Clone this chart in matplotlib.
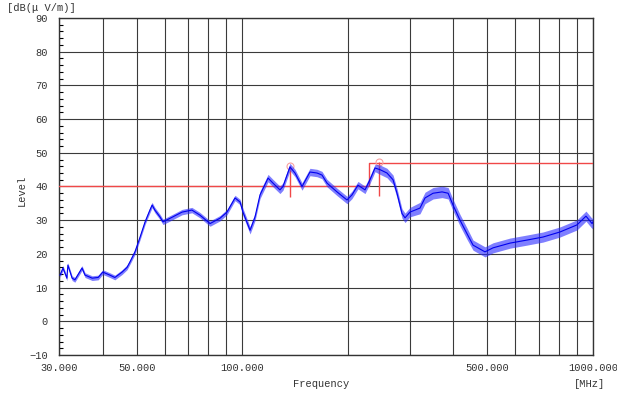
import matplotlib
matplotlib.use("Agg")
from matplotlib import pyplot as plt
from matplotlib.ticker import FixedLocator, NullFormatter, MultipleLocator

freq = [30.2, 30.8, 31.6, 31.8, 32.7, 33.3, 34.9, 35.6, 37.3, 38.8, 40.0, 41.9,
        43.3, 45.4, 46.9, 47.8, 49.4, 51.1, 52.8, 54.5, 55.3, 56.3, 58.2, 59.4,
        63.4, 67.3, 71.8, 75.7, 80.9, 86.4, 90.4, 95.3, 98.5, 100.4, 105.2,
        108.7, 112.3, 118.4, 122.3, 128.0, 130.6, 136.7, 141.3, 148.0, 155.9,
        163.3, 168.7, 174.4, 186.2, 198.8, 205.4, 213.7, 223.8, 231.2, 239.0,
        246.9, 258.5, 269.0, 276.1, 285.3, 291.0, 300.7, 321.1, 331.9, 349.9,
        371.2, 386.2, 398.8, 417.6, 437.2, 454.9, 492.0, 518.8, 580, 648, 720,
        805, 900, 955, 994, 1000]
level = [13.7, 15.8, 12.8, 16.7, 12.8, 12.3, 15.8, 13.7, 12.8, 13.0, 14.6, 13.7,
         13.0, 14.6, 16.0, 17.6, 20.6, 25.0, 29.5, 33.0, 34.5, 33.0, 31.0, 29.5,
         31.0, 32.4, 33.0, 31.5, 29.0, 30.6, 32.4, 36.6, 35.4, 32.4, 27.0,
         31.0, 37.5, 42.5, 41.0, 39.0, 40.0, 45.8, 44.0, 40.0, 44.3,
         44.0, 43.4, 41.0, 38.4, 36.0, 37.5, 40.4, 39.0, 42.0, 45.5,
         45.0, 44.0, 42.0, 38.0, 32.0, 30.7, 32.4, 33.6, 36.6, 38.0,
         38.4, 38.0, 34.5, 30.0, 26.0, 22.6, 20.6, 21.8, 23.2, 24.1, 25.0,
         26.5, 28.6, 31.2, 29.0, 29.5]
# half width of the noise band (dB)
spread = [0.7] * 16 + [0.8] * 17 + [1.1] * 22 + [1.4] * 7 + [1.7] * 8 + [1.5] * 11

# Limit line
limit_freq = [30, 230, 230, 1000]
limit_level = [40, 40, 47, 47]

# Peak markers
peak_freq = [137, 245]
peak_top = [46.0, 47.3]
peak_bottom = [36.9, 37.2]

labelled = [30, 50, 100, 500, 1000]
grid_freq = [40, 60, 70, 80, 90, 200, 300, 400, 600, 700, 800, 900]

mono = "Liberation Mono"
txt = "#333333"

fig = plt.figure(figsize=(6.17, 3.95), dpi=100)
ax = fig.add_axes([0.0956, 0.1013, 0.8655, 0.8531])

ax.set_xscale("log")
ax.set_xlim(30, 1000)
ax.set_ylim(-10, 90)

ax.xaxis.set_major_locator(FixedLocator(labelled))
ax.xaxis.set_minor_locator(FixedLocator(grid_freq))
ax.xaxis.set_minor_formatter(NullFormatter())
ax.set_xticklabels(["%.3f" % f for f in labelled])
ax.yaxis.set_major_locator(MultipleLocator(10))
ax.yaxis.set_minor_locator(MultipleLocator(2))

ax.grid(True, which="major", color="#3a3a3a", linewidth=0.8)
ax.grid(True, which="minor", axis="x", color="#3a3a3a", linewidth=0.8)
ax.tick_params(axis="x", which="both", length=0, pad=6, labelsize=7.5,
               labelcolor=txt)
ax.tick_params(axis="y", which="major", length=0, pad=8, labelsize=7.5,
               labelcolor=txt)
ax.tick_params(axis="y", which="minor", direction="in", length=3, width=0.8)
for lab in ax.get_xticklabels() + ax.get_yticklabels():
    lab.set_fontfamily(mono)
for s in ax.spines.values():
    s.set_color("#333333")
    s.set_linewidth(1.0)

ax.plot(limit_freq, limit_level, color="#f04848", linewidth=1.0, zorder=3)
ax.vlines(peak_freq, peak_bottom, peak_top, color="#f04848", linewidth=1.0,
          zorder=3)
ax.plot(peak_freq, peak_top, "o", markersize=5, markerfacecolor="none",
        markeredgecolor="#f8a0a0", markeredgewidth=0.8, zorder=4)

low = [l - s for l, s in zip(level, spread)]
high = [l + s for l, s in zip(level, spread)]
ax.fill_between(freq, low, high, color="#2a2aff", alpha=0.6, linewidth=0,
                zorder=5)
ax.plot(freq, level, color="#0000ee", linewidth=0.8, zorder=6)

fig.text(7 / 617, 1 - 8 / 395, "[dB(\u03bc V/m)]", fontsize=7.5,
         family=mono, color=txt, va="center", ha="left")
fig.text(22 / 617, 1 - 190 / 395, "Level", fontsize=7.5, family=mono,
         color=txt, rotation=90, va="center", ha="center")
fig.text(321 / 617, 1 - 384 / 395, "Frequency", fontsize=7.5, family=mono,
         color=txt, va="center", ha="center")
fig.text(590 / 617, 1 - 384 / 395, "[MHz]", fontsize=7.5, family=mono,
         color=txt, va="center", ha="center")

fig.savefig("out.png", dpi=100)
